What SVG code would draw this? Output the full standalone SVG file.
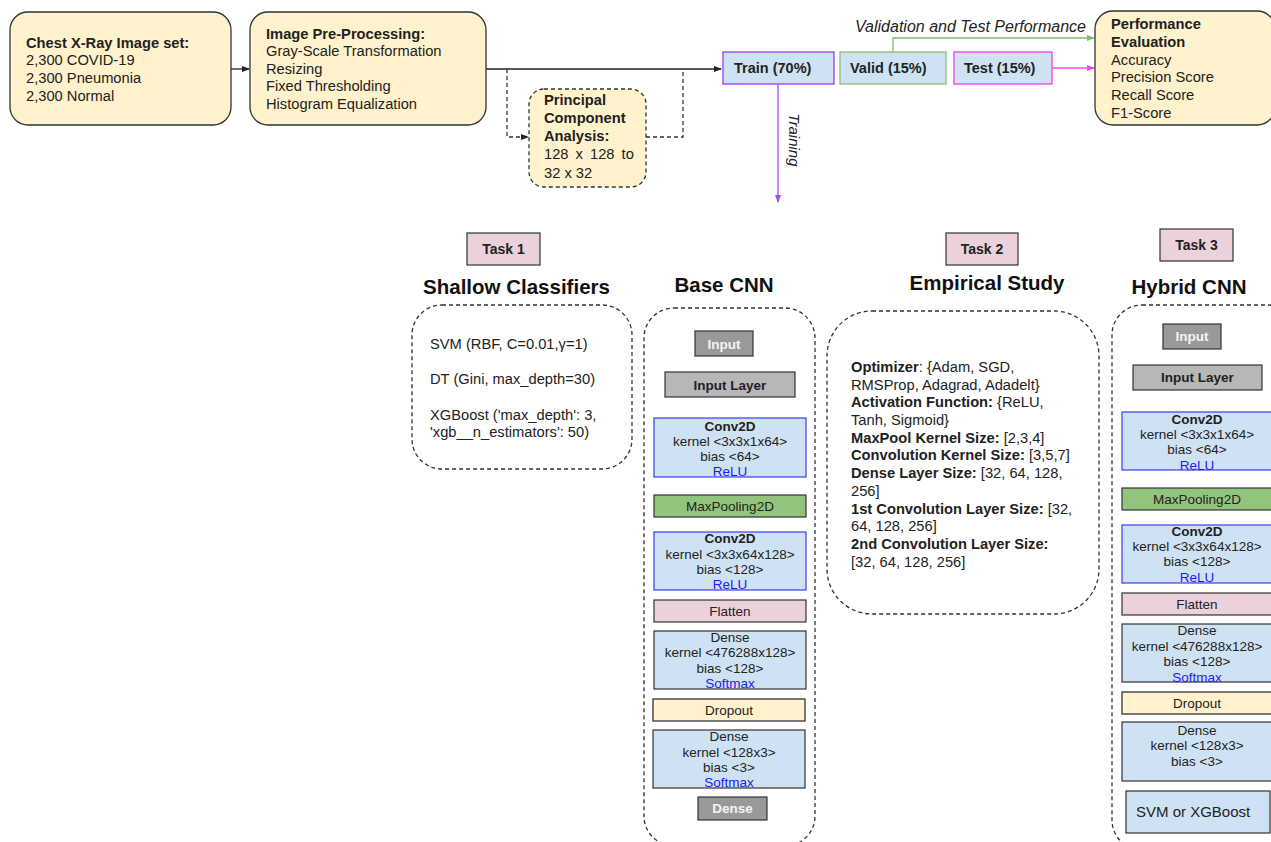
<svg xmlns="http://www.w3.org/2000/svg" width="1271" height="842" viewBox="0 0 1271 842">
<style>
text{font-family:"Liberation Sans",Arial,sans-serif;fill:#222}
.t{font-size:14.7px}
.b{font-weight:bold}
.h{font-size:20.5px;font-weight:bold;text-anchor:middle;fill:#111}
.l{font-size:13.5px;text-anchor:middle}
.lk{fill:#1a1aff}
.w{fill:#f4f4f4;font-weight:bold}
.yel{fill:#fff2cc;stroke:#333;stroke-width:1.3}
.blue{fill:#cfe2f3;stroke:#333;stroke-width:1.2}
.conv{fill:#cfe2f3;stroke:#3c3cf5;stroke-width:1.2}
.pink{fill:#ead1dc;stroke:#333;stroke-width:1.2}
.grn{fill:#93c47d;stroke:#333;stroke-width:1.2}
.g1{fill:#999;stroke:#333;stroke-width:1.2}
.g2{fill:#b7b7b7;stroke:#333;stroke-width:1.2}
.dash{fill:none;stroke:#333;stroke-width:1.3;stroke-dasharray:4 3}
.c{fill:none;stroke-width:1.3}
</style>
<defs>
<marker id="ak" markerWidth="8" markerHeight="8" refX="7" refY="4" orient="auto" markerUnits="userSpaceOnUse"><path d="M0,1 L8,4 L0,7 Z" fill="#222"/></marker>
<marker id="ag" markerWidth="8" markerHeight="8" refX="7" refY="4" orient="auto" markerUnits="userSpaceOnUse"><path d="M0,1 L8,4 L0,7 Z" fill="#7fbf6a"/></marker>
<marker id="am" markerWidth="8" markerHeight="8" refX="7" refY="4" orient="auto" markerUnits="userSpaceOnUse"><path d="M0,1 L8,4 L0,7 Z" fill="#f04cf0"/></marker>
<marker id="ap" markerWidth="8" markerHeight="8" refX="7" refY="4" orient="auto" markerUnits="userSpaceOnUse"><path d="M0,1 L8,4 L0,7 Z" fill="#a24cf0"/></marker>
</defs>
<rect width="1271" height="842" fill="#fff"/>

<g id="connectors">
<path class="c" stroke="#222" d="M231,69 H249" marker-end="url(#ak)"/>
<path class="c" stroke="#222" d="M486,69 H721" marker-end="url(#ak)"/>
<path class="c" stroke="#333" stroke-dasharray="4 3" d="M507,69 V137 H528" marker-end="url(#ak)"/>
<path class="c" stroke="#333" stroke-dasharray="4 3" d="M646,137 H683 V69"/>
<path class="c" stroke="#7fbf6a" d="M893,52 V38 H1094" marker-end="url(#ag)"/>
<path class="c" stroke="#f04cf0" d="M1052,68 H1094" marker-end="url(#am)"/>
<path class="c" stroke="#a24cf0" d="M778,84 V202" marker-end="url(#ap)"/>
<text class="t" font-style="italic" font-size="16px" x="855" y="31.5" style="font-size:16px">Validation and Test Performance</text>
<text font-style="italic" style="font-size:15px" transform="translate(789,140) rotate(90)" text-anchor="middle">Training</text>
</g>

<g id="dataset">
<rect class="yel" x="10" y="12" width="221" height="113" rx="18"/>
<text class="t" x="26" y="47.8"><tspan class="b">Chest X-Ray Image set:</tspan><tspan x="26" dy="17.6">2,300 COVID-19</tspan><tspan x="26" dy="17.6">2,300 Pneumonia</tspan><tspan x="26" dy="17.6">2,300 Normal</tspan></text>
</g>

<g id="preprocessing">
<rect class="yel" x="250" y="12" width="236" height="113" rx="18"/>
<text class="t" x="266" y="38.5"><tspan class="b">Image Pre-Processing:</tspan><tspan x="266" dy="17.6">Gray-Scale Transformation</tspan><tspan x="266" dy="17.6">Resizing</tspan><tspan x="266" dy="17.6">Fixed Thresholding</tspan><tspan x="266" dy="17.6">Histogram Equalization</tspan></text>
</g>

<g id="pca">
<rect x="529" y="89" width="117" height="98" rx="15" fill="#fff2cc" stroke="#333" stroke-width="1.3" stroke-dasharray="4 3"/>
<text class="t" x="544" y="105"><tspan class="b">Principal</tspan><tspan x="544" dy="18" class="b">Component</tspan><tspan x="544" dy="17.8" class="b">Analysis:</tspan><tspan x="544" dy="18" word-spacing="3">128 x 128 to</tspan><tspan x="544" dy="19.3">32 x 32</tspan></text>
</g>

<g id="train">
<rect x="723" y="52" width="111" height="32" fill="#cfe2f3" stroke="#a24cf0" stroke-width="1.4"/>
<text class="t b" x="734" y="73" style="font-size:14.5px">Train (70%)</text>
</g>
<g id="valid">
<rect x="840" y="52" width="106" height="32" fill="#cfe2f3" stroke="#93c47d" stroke-width="1.4"/>
<text class="t b" x="850" y="73" style="font-size:14.5px">Valid (15%)</text>
</g>
<g id="test">
<rect x="954" y="52" width="98" height="32" fill="#cfe2f3" stroke="#f04cf0" stroke-width="1.4"/>
<text class="t b" x="964" y="73" style="font-size:14.5px">Test (15%)</text>
</g>

<g id="performance">
<rect class="yel" x="1095" y="11" width="180" height="114" rx="18"/>
<text class="t" x="1111" y="29.2"><tspan class="b">Performance</tspan><tspan x="1111" dy="17.7" class="b">Evaluation</tspan><tspan x="1111" dy="17.7">Accuracy</tspan><tspan x="1111" dy="17.7">Precision Score</tspan><tspan x="1111" dy="17.7">Recall Score</tspan><tspan x="1111" dy="17.7">F1-Score</tspan></text>
</g>

<g id="task1">
<rect class="pink" x="467" y="233" width="73" height="32"/>
<text class="b" x="503.5" y="254" text-anchor="middle" style="font-size:14px">Task 1</text>
<text class="h" x="516.5" y="294">Shallow Classifiers</text>
</g>
<g id="shallow">
<rect class="dash" x="412" y="305" width="220" height="164" rx="30"/>
<text class="t" x="430" y="349.4">SVM (RBF, C=0.01,γ=1)</text>
<text class="t" x="430" y="384.4">DT (Gini, max_depth=30)</text>
<text class="t" x="430" y="420.1">XGBoost ('max_depth': 3,<tspan x="430" dy="17.3">'xgb__n_estimators': 50)</tspan></text>
</g>

<g id="basecnn">
<text class="h" x="724" y="292">Base CNN</text>
<rect class="dash" x="644" y="308" width="171" height="538" rx="30"/>
<rect class="g1" x="695" y="331" width="58" height="25"/>
<text class="l w" x="724" y="348.5">Input</text>
<rect class="g2" x="665" y="372" width="130" height="25"/>
<text class="l b" x="730" y="389.5">Input Layer</text>
<rect class="conv" x="654" y="418" width="152" height="59"/>
<text class="l" x="730" y="431.4"><tspan class="b">Conv2D</tspan><tspan x="730" dy="14.5">kernel &lt;3x3x1x64&gt;</tspan><tspan x="730" dy="15.5">bias &lt;64&gt;</tspan><tspan x="730" dy="15" class="lk">ReLU</tspan></text>
<rect class="grn" x="654" y="495" width="152" height="22"/>
<text class="l" x="730" y="510.7">MaxPooling2D</text>
<rect class="conv" x="654" y="532" width="152" height="58"/>
<text class="l" x="730" y="543"><tspan class="b">Conv2D</tspan><tspan x="730" dy="16">kernel &lt;3x3x64x128&gt;</tspan><tspan x="730" dy="15">bias &lt;128&gt;</tspan><tspan x="730" dy="15" class="lk">ReLU</tspan></text>
<rect class="pink" x="654" y="600" width="152" height="22"/>
<text class="l" x="730" y="615.7">Flatten</text>
<rect class="blue" x="654" y="631" width="152" height="58"/>
<text class="l" x="730" y="642"><tspan>Dense</tspan><tspan x="730" dy="15.4">kernel &lt;476288x128&gt;</tspan><tspan x="730" dy="15.6">bias &lt;128&gt;</tspan><tspan x="730" dy="15" class="lk">Softmax</tspan></text>
<rect class="yel" x="653" y="699" width="152" height="22" stroke-width="1.2"/>
<text class="l" x="729" y="714.7">Dropout</text>
<rect class="blue" x="653" y="730" width="152" height="58"/>
<text class="l" x="729" y="741.4"><tspan>Dense</tspan><tspan x="729" dy="16">kernel &lt;128x3&gt;</tspan><tspan x="729" dy="15">bias &lt;3&gt;</tspan><tspan x="729" dy="15" class="lk">Softmax</tspan></text>
<rect class="g1" x="698" y="797" width="69" height="23"/>
<text class="l w" x="732.5" y="813.2">Dense</text>
</g>

<g id="task2">
<rect class="pink" x="946" y="233" width="72" height="32"/>
<text class="b" x="982" y="254" text-anchor="middle" style="font-size:14px">Task 2</text>
<text class="h" x="987" y="290">Empirical Study</text>
</g>
<g id="empirical">
<rect class="dash" x="827" y="311" width="272" height="303" rx="45"/>
<text class="t" x="851" y="371.8"><tspan class="b">Optimizer</tspan>: {Adam, SGD,<tspan x="851" dy="17.73">RMSProp, Adagrad, Adadelt}</tspan><tspan x="851" dy="17.73" class="b">Activation Function:</tspan> {ReLU,<tspan x="851" dy="17.73">Tanh, Sigmoid}</tspan><tspan x="851" dy="17.73" class="b">MaxPool Kernel Size:</tspan> [2,3,4]<tspan x="851" dy="17.73" class="b">Convolution Kernel Size:</tspan> [3,5,7]<tspan x="851" dy="17.73" class="b">Dense Layer Size:</tspan> [32, 64, 128,<tspan x="851" dy="17.73">256]</tspan><tspan x="851" dy="17.73" class="b">1st Convolution Layer Size:</tspan> [32,<tspan x="851" dy="17.73">64, 128, 256]</tspan><tspan x="851" dy="17.73" class="b">2nd Convolution Layer Size:</tspan><tspan x="851" dy="17.73">[32, 64, 128, 256]</tspan></text>
</g>

<g id="task3">
<rect class="pink" x="1160" y="229" width="73" height="32"/>
<text class="b" x="1196.5" y="250" text-anchor="middle" style="font-size:14px">Task 3</text>
<text class="h" x="1189" y="293.5">Hybrid CNN</text>
</g>
<g id="hybridcnn">
<rect class="dash" x="1112" y="305" width="185" height="545" rx="30"/>
<rect class="g1" x="1163" y="324" width="58" height="25"/>
<text class="l w" x="1192" y="341">Input</text>
<rect class="g2" x="1133" y="365" width="129" height="25"/>
<text class="l b" x="1197.5" y="382">Input Layer</text>
<rect class="conv" x="1122" y="412" width="152" height="58"/>
<text class="l" x="1197" y="423.7"><tspan class="b">Conv2D</tspan><tspan x="1197" dy="15.3">kernel &lt;3x3x1x64&gt;</tspan><tspan x="1197" dy="15">bias &lt;64&gt;</tspan><tspan x="1197" dy="15.7" class="lk">ReLU</tspan></text>
<rect class="grn" x="1122" y="488" width="152" height="22"/>
<text class="l" x="1197" y="503.7">MaxPooling2D</text>
<rect class="conv" x="1122" y="525" width="152" height="58"/>
<text class="l" x="1197" y="535.7"><tspan class="b">Conv2D</tspan><tspan x="1197" dy="15.7">kernel &lt;3x3x64x128&gt;</tspan><tspan x="1197" dy="15">bias &lt;128&gt;</tspan><tspan x="1197" dy="15.6" class="lk">ReLU</tspan></text>
<rect class="pink" x="1122" y="593" width="152" height="22"/>
<text class="l" x="1197" y="608.7">Flatten</text>
<rect class="blue" x="1122" y="624" width="152" height="58"/>
<text class="l" x="1197" y="635.4"><tspan>Dense</tspan><tspan x="1197" dy="15.3">kernel &lt;476288x128&gt;</tspan><tspan x="1197" dy="15.7">bias &lt;128&gt;</tspan><tspan x="1197" dy="15.6" class="lk">Softmax</tspan></text>
<rect class="yel" x="1122" y="692" width="152" height="22" stroke-width="1.2"/>
<text class="l" x="1197" y="707.7">Dropout</text>
<rect class="blue" x="1122" y="722" width="152" height="59"/>
<text class="l" x="1197" y="734.7"><tspan>Dense</tspan><tspan x="1197" dy="15.7">kernel &lt;128x3&gt;</tspan><tspan x="1197" dy="15.3">bias &lt;3&gt;</tspan></text>
<rect class="blue" x="1126" y="791" width="144" height="42"/>
<text x="1136" y="817.3" style="font-size:15px">SVM or XGBoost</text>
</g>
</svg>
